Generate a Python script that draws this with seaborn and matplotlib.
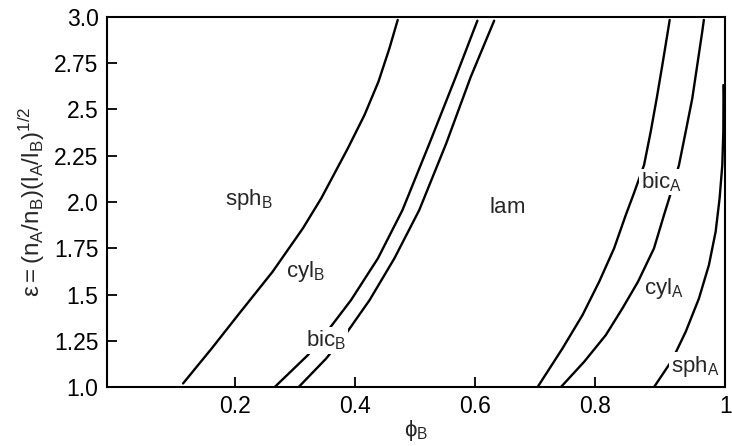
import matplotlib
matplotlib.use("Agg")
import matplotlib.pyplot as plt
import seaborn as sns
import pandas as pd

# phase boundaries (phi_B, epsilon)
sphB_cylB_x = [0.1127, 0.1605, 0.207, 0.262, 0.3127, 0.3433, 0.3877, 0.4155, 0.4388, 0.4572, 0.471]
sphB_cylB_y = [1.02, 1.209, 1.40, 1.623, 1.858, 2.02, 2.29, 2.47, 2.65, 2.831, 2.984]

cylB_bicB_x = [0.2655, 0.321, 0.357, 0.393, 0.438, 0.479, 0.524, 0.568, 0.604]
cylB_bicB_y = [1.0, 1.173, 1.317, 1.47, 1.696, 1.957, 2.317, 2.677, 2.98]

bicB_lam_x = [0.3055, 0.3517, 0.385, 0.424, 0.4655, 0.507, 0.552, 0.593, 0.632]
bicB_lam_y = [1.0, 1.155, 1.29, 1.47, 1.696, 1.957, 2.317, 2.677, 2.98]

lam_bicA_x = [0.7044, 0.746, 0.7794, 0.8072, 0.8322, 0.8517, 0.8642, 0.8822, 0.8933, 0.9033, 0.9127, 0.921, 0.925]
lam_bicA_y = [1.0, 1.209, 1.389, 1.569, 1.75, 1.93, 2.038, 2.2, 2.38, 2.56, 2.74, 2.904, 2.984]

bicA_cylA_x = [0.7433, 0.7822, 0.8183, 0.846, 0.872, 0.8988, 0.9155, 0.9293, 0.9405, 0.9517, 0.9627, 0.971, 0.9793, 0.982]
bicA_cylA_y = [1.0, 1.137, 1.281, 1.425, 1.569, 1.75, 1.93, 2.074, 2.2, 2.38, 2.56, 2.74, 2.92, 2.984]

cylA_sphA_x = [0.8988, 0.929, 0.9517, 0.9738, 0.9905, 1.0017, 1.0083, 1.0128, 1.0145, 1.0148, 1.0146]
cylA_sphA_y = [1.0, 1.146, 1.299, 1.479, 1.66, 1.84, 2.02, 2.2, 2.38, 2.56, 2.632]

boundaries = [
    (sphB_cylB_x, sphB_cylB_y),
    (cylB_bicB_x, cylB_bicB_y),
    (bicB_lam_x, bicB_lam_y),
    (lam_bicA_x, lam_bicA_y),
    (bicA_cylA_x, bicA_cylA_y),
    (cylA_sphA_x, cylA_sphA_y),
]

# phase labels: text, left x, baseline y
phase_names = [r'sph_B', r'cyl_B', r'bic_B', r'lam', r'bic_A', r'cyl_A', r'sph_A']
phase_x = [0.182, 0.285, 0.318, 0.623, 0.8767, 0.882, 0.9267]
phase_y = [1.984, 1.594, 1.218, 1.942, 2.074, 1.503, 1.083]

xtick_vals = [0.2, 0.4, 0.6, 0.8, 1.018]
xtick_text = ['0.2', '0.4', '0.6', '0.8', '1']
ytick_vals = [1.0, 1.25, 1.5, 1.75, 2.0, 2.25, 2.5, 2.75, 3.0]
ytick_text = ['1.0', '1.25', '1.5', '1.75', '2.0', '2.25', '2.5', '2.75', '3.0']

sns.set_style("ticks")
plt.rcParams['font.family'] = ['Liberation Sans', 'DejaVu Sans']
plt.rcParams['mathtext.fontset'] = 'custom'
plt.rcParams['mathtext.rm'] = 'Liberation Sans'
plt.rcParams['mathtext.it'] = 'Liberation Sans'
plt.rcParams['mathtext.fallback'] = 'stixsans'

fig = plt.figure(figsize=(7.32, 4.46), dpi=100)
ax = fig.add_axes([0.146, 0.132, 0.845, 0.830])

for bx, by in boundaries:
    df = pd.DataFrame({'phi': bx, 'eps': by})
    sns.lineplot(data=df, x='phi', y='eps', sort=False, estimator=None,
                 color='black', lw=1.7, ax=ax, zorder=2)

for name, tx, ty in zip(phase_names, phase_x, phase_y):
    ax.text(tx, ty, r'$\mathregular{%s}$' % name, fontsize=16, ha='left', va='baseline',
            zorder=3, bbox=dict(fc='white', ec='none', pad=1.0))

ax.set_xlim(-0.0145, 1.018)
ax.set_ylim(1.0, 3.0)
ax.set_xticks(xtick_vals)
ax.set_xticklabels(xtick_text)
ax.set_yticks(ytick_vals)
ax.set_yticklabels(ytick_text)
ax.tick_params(direction='in', length=7.5, width=1.3, labelsize=16.5, pad=6, colors='black')

for side in ['top', 'right', 'left', 'bottom']:
    ax.spines[side].set_visible(True)
    ax.spines[side].set_linewidth(1.5)
    ax.spines[side].set_color('black')

ax.set_xlabel(r'$\mathregular{\phi_B}$', fontsize=16, labelpad=0)
ax.set_ylabel(r'$\mathregular{ε = (n_A/n_B)(l_A/l_B)^{1/2}}$', fontsize=17.5, labelpad=5)

fig.savefig('out.png', dpi=100)
